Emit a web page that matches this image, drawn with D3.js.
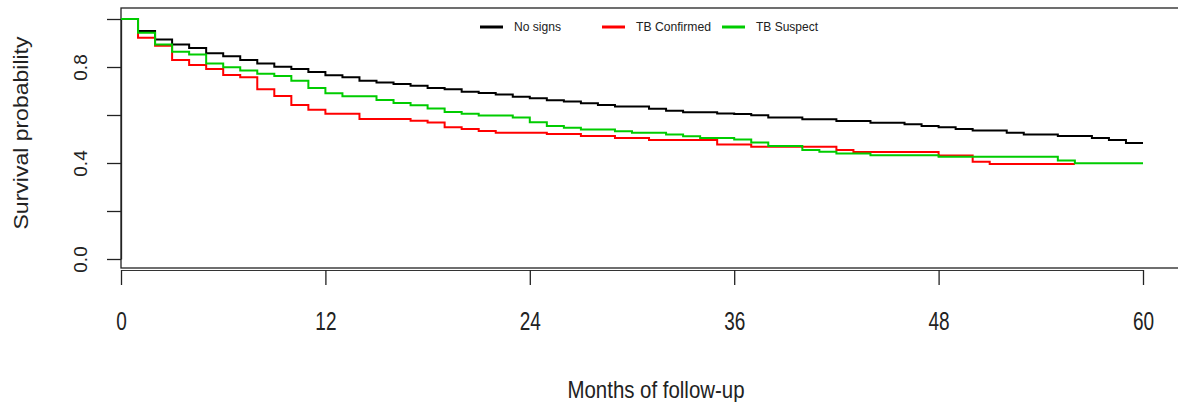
<!DOCTYPE html>
<html>
<head>
<meta charset="utf-8">
<script src="https://cdn.jsdelivr.net/npm/d3@7"></script>
<style>
  body { margin: 0; background: #fff; }
</style>
</head>
<body>
<div id="km"></div>
<script>
// months of follow-up (step starts); last entry of each series = end of curve
const months = [0,1,2,3,4,5,6,7,8,9,10,11,12,13,14,15,16,17,18,19,20,
  21,22,23,24,25,26,27,28,29,30,31,32,33,34,35,36,37,38,39,40,
  41,42,43,44,45,46,47,48,49,50,51,52,53,54,55,56,57,58,59,60];

const noSigns = [1.0,0.950,0.915,0.894,0.879,0.857,0.845,0.829,0.815,0.801,0.792,
  0.779,0.766,0.757,0.743,0.735,0.729,0.722,0.713,0.707,0.697,
  0.692,0.685,0.676,0.670,0.661,0.656,0.649,0.642,0.635,0.635,
  0.626,0.618,0.611,0.611,0.606,0.604,0.599,0.590,0.590,0.582,
  0.582,0.575,0.575,0.568,0.568,0.561,0.554,0.549,0.542,0.535,
  0.535,0.526,0.519,0.519,0.513,0.513,0.504,0.496,0.483,0.483];

const tbConfirmed = [1.0,0.922,0.889,0.829,0.808,0.792,0.767,0.757,0.707,0.679,0.642,
  0.622,0.605,0.605,0.583,0.583,0.583,0.576,0.569,0.549,0.542,
  0.533,0.526,0.526,0.526,0.521,0.521,0.512,0.512,0.504,0.504,
  0.496,0.496,0.496,0.496,0.477,0.477,0.468,0.468,0.468,0.468,
  0.468,0.454,0.446,0.446,0.446,0.446,0.446,0.431,0.431,0.405,
  0.396,0.396,0.396,0.396,0.396,0.396];

const tbSuspect = [1.0,0.943,0.894,0.864,0.852,0.815,0.799,0.785,0.772,0.763,0.743,
  0.712,0.691,0.678,0.678,0.662,0.650,0.641,0.627,0.612,0.605,
  0.598,0.598,0.590,0.570,0.554,0.547,0.540,0.540,0.532,0.526,
  0.526,0.519,0.511,0.504,0.504,0.498,0.485,0.471,0.471,0.454,
  0.447,0.440,0.440,0.432,0.432,0.432,0.432,0.426,0.426,0.426,
  0.426,0.426,0.426,0.426,0.410,0.399,0.399,0.399,0.399,0.399];

const groups = ["No signs", "TB Confirmed", "TB Suspect"];
const colors = ["#000000", "#ff0000", "#00cc00"];
const xTicks = [0, 12, 24, 36, 48, 60];
const yTicks = [0, 0.2, 0.4, 0.6, 0.8, 1.0];
const yLabels = ["0.0", "", "0.4", "", "0.8", ""];

const width = 1178, height = 402;

const svg = d3.select("#km")
  .append("svg")
    .attr("width", width)
    .attr("height", height);

const x = d3.scaleLinear().domain([0, 60]).range([121, 1143]);
const y = d3.scaleLinear().domain([0, 1]).range([259, 19]);

// plot box (right side runs off the picture)
svg.append("rect")
  .attr("x", 121).attr("y", 8)
  .attr("width", 1070).attr("height", 260)
  .attr("fill", "none")
  .attr("stroke", "#222")
  .attr("stroke-width", 1.3);

// x axis, drawn just under the box bottom
const xAxis = svg.append("g")
  .attr("transform", "translate(0,270)")
  .call(d3.axisBottom(x).tickValues(xTicks).tickSize(15).tickSizeOuter(0).tickPadding(27));
xAxis.select(".domain").attr("stroke", "#333").attr("stroke-width", 1);
xAxis.selectAll(".tick line").attr("stroke", "#222").attr("stroke-width", 1.3);
xAxis.selectAll("text")
  .attr("fill", "#222")
  .attr("transform", "scale(0.76,1)")
  .style("font-family", "'Liberation Sans', Arial, sans-serif")
  .style("font-size", "25px");

// y axis
const yAxis = svg.append("g")
  .attr("transform", "translate(121,0)")
  .call(d3.axisLeft(y).tickValues(yTicks).tickSize(14).tickSizeOuter(0)
    .tickFormat((d, i) => yLabels[i]));
yAxis.select(".domain").attr("stroke", "#222").attr("stroke-width", 1.3);
yAxis.selectAll(".tick line").attr("stroke", "#222").attr("stroke-width", 1.3);
yAxis.selectAll("text")
  .attr("x", 0)
  .attr("y", -34)
  .attr("dy", null)
  .attr("transform", "rotate(-90)")
  .attr("text-anchor", "middle")
  .attr("fill", "#222")
  .style("font-family", "'Liberation Sans', Arial, sans-serif")
  .style("font-size", "19px");

// survival curves
const line = d3.line()
  .x(d => x(d[0]))
  .y(d => y(d[1]))
  .curve(d3.curveStepAfter);

[noSigns, tbConfirmed, tbSuspect].forEach(function(vals, i) {
  svg.append("path")
    .datum(vals.map((v, j) => [months[j], v]))
    .attr("d", line)
    .attr("fill", "none")
    .attr("stroke", colors[i])
    .attr("stroke-width", 2);
});

// legend
const legendX = [480, 602, 722];
const legendW = [47, 75, 62];
const legend = svg.selectAll("g.leg")
  .data(groups)
  .join("g")
  .attr("class", "leg")
  .attr("transform", (d, i) => `translate(${legendX[i]},27)`);
legend.append("line")
  .attr("x1", 0).attr("x2", 23)
  .attr("stroke", (d, i) => colors[i])
  .attr("stroke-width", 3);
legend.append("text")
  .attr("x", 34)
  .attr("y", 4)
  .attr("textLength", (d, i) => legendW[i])
  .attr("lengthAdjust", "spacingAndGlyphs")
  .style("font-family", "'Liberation Sans', Arial, sans-serif")
  .style("font-size", "13px")
  .attr("fill", "#222")
  .text(d => d);

// axis titles
svg.append("text")
  .attr("x", 656)
  .attr("y", 398)
  .attr("text-anchor", "middle")
  .attr("textLength", 177)
  .attr("lengthAdjust", "spacingAndGlyphs")
  .style("font-family", "'Liberation Sans', Arial, sans-serif")
  .style("font-size", "24px")
  .attr("fill", "#222")
  .text("Months of follow-up");

svg.append("text")
  .attr("transform", "rotate(-90)")
  .attr("x", -133)
  .attr("y", 28)
  .attr("text-anchor", "middle")
  .attr("textLength", 193)
  .attr("lengthAdjust", "spacingAndGlyphs")
  .style("font-family", "'Liberation Sans', Arial, sans-serif")
  .style("font-size", "21px")
  .attr("fill", "#222")
  .text("Survival probability");
</script>
</body>
</html>
